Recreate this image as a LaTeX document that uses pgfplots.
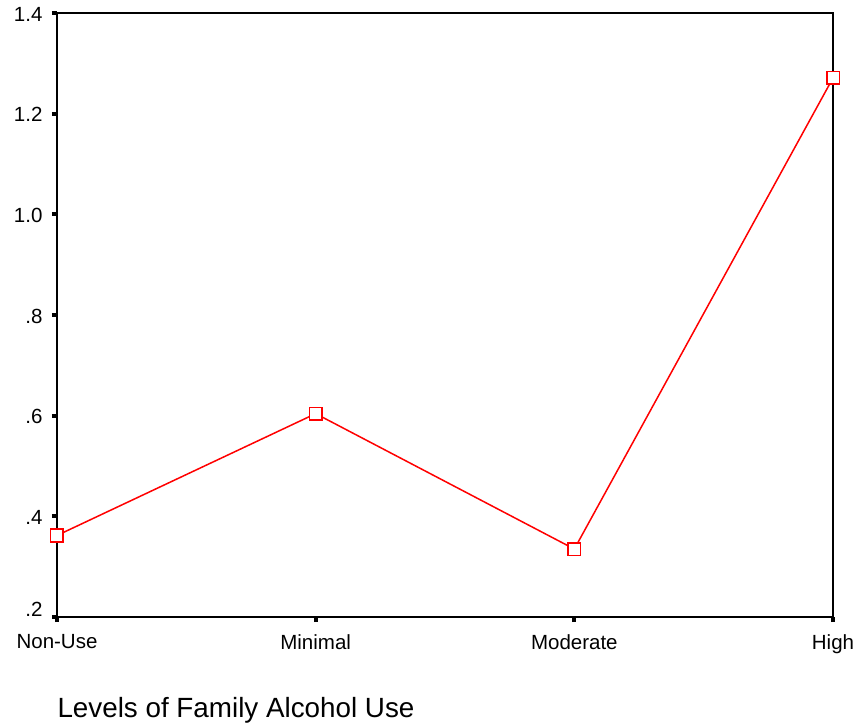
\documentclass[border=0pt]{standalone}
\usepackage{pgfplots}
\pgfplotsset{compat=1.18}
\usepackage{fontspec}
\setmainfont{Liberation Sans}
\begin{document}
\begin{tikzpicture}
\path[use as bounding box] (-57pt,-109pt) rectangle (800pt,617pt);
\begin{axis}[
  at={(0pt,0pt)}, anchor=south west,
  scale only axis,
  width=776pt, height=604pt,
  xmin=0, xmax=3, ymin=0.2, ymax=1.4,
  xtick={0,1,2,3},
  xticklabels={Non-Use,Minimal,Moderate,High},
  ytick={0.2,0.4,0.6,0.8,1.0,1.2,1.4},
  yticklabels={\raisebox{18pt}{.2},.4,.6,.8,1.0,1.2,1.4},
  tick align=outside,
  xtick pos=bottom, ytick pos=left,
  major tick length=5pt,
  tick style={black, line width=4pt, line cap=butt},
  axis line style={black, line width=1.6pt},
  tick label style={font=\fontsize{20.5}{24}\selectfont},
  yticklabel style={xshift=-6pt, yshift=-1pt},
  xticklabel style={yshift=-9pt},
  xlabel={Levels of Family Alcohol Use},
  xlabel style={at={(rel axis cs:0,0)}, anchor=base west, xshift=-3pt, yshift=-100pt, font=\fontsize{27.8}{32}\selectfont},
  clip=false,
]
\addplot[red, line width=1.5pt, mark=square*, mark size=6.3pt, mark options={draw=red, fill=white, line width=1.6pt, solid}]
  coordinates {(0,0.362) (1,0.604) (2,0.335) (3,1.271)};
\end{axis}
\end{tikzpicture}
\end{document}
